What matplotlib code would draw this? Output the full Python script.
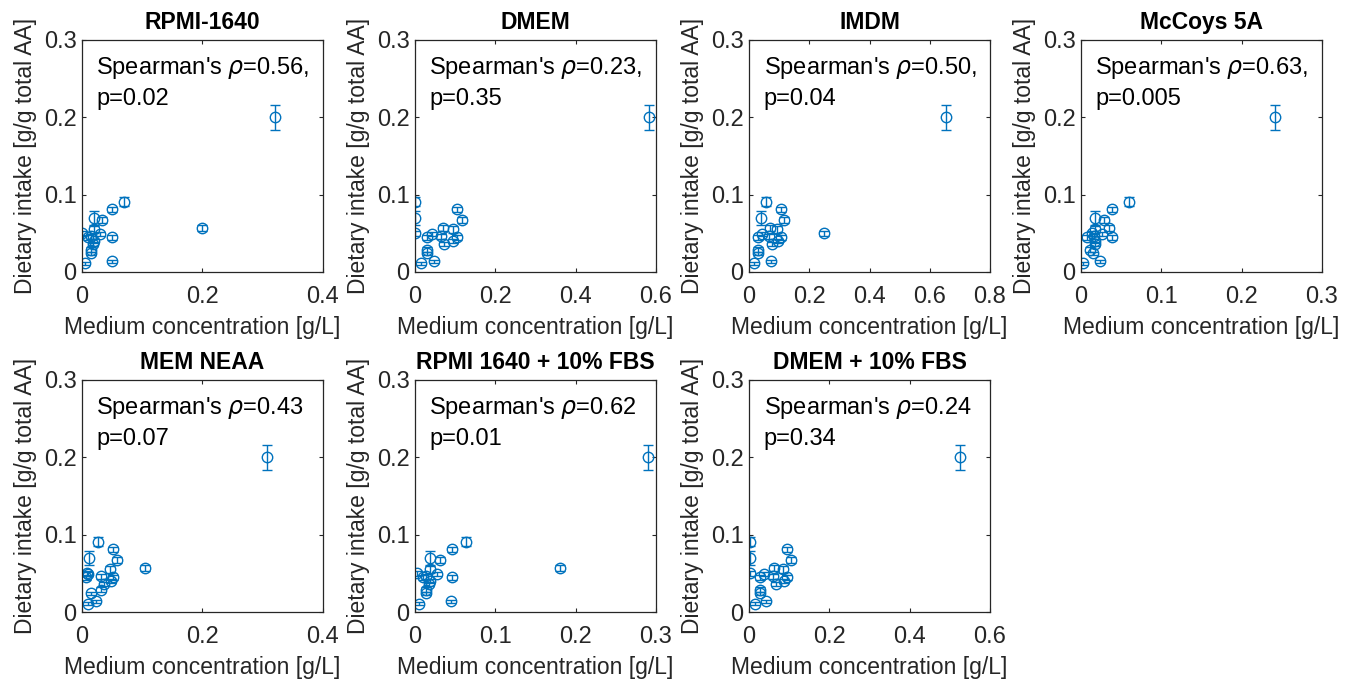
import matplotlib
matplotlib.use("Agg")
from matplotlib import pyplot as plt
from matplotlib.ticker import FuncFormatter
import numpy as np

# amino acids (Asx = Asn+Asp, Glx = Gln+Glu)
amino_acids = ['Ala', 'Arg', 'Asx', 'Cys', 'Glx', 'Gly', 'His', 'Ile', 'Leu',
               'Lys', 'Met', 'Phe', 'Pro', 'Ser', 'Thr', 'Trp', 'Tyr', 'Val']

# dietary intake [g/g total AA] and its error
intake = [0.050, 0.057, 0.091, 0.014, 0.200, 0.045, 0.029, 0.045, 0.081,
          0.067, 0.024, 0.046, 0.070, 0.049, 0.040, 0.011, 0.036, 0.055]
intake_err = [0.003, 0.004, 0.006, 0.002, 0.016, 0.003, 0.003, 0.003, 0.003,
              0.004, 0.002, 0.003, 0.009, 0.003, 0.003, 0.002, 0.003, 0.004]

# medium concentrations [g/L]
rpmi = [0.0, 0.20, 0.07, 0.05, 0.32, 0.01, 0.015, 0.05, 0.05,
        0.033, 0.015, 0.015, 0.02, 0.03, 0.02, 0.005, 0.018, 0.02]
dmem = [0.0, 0.069, 0.0, 0.048, 0.584, 0.03, 0.031, 0.105, 0.105,
        0.117, 0.03, 0.066, 0.0, 0.042, 0.095, 0.016, 0.072, 0.094]
imdm = [0.25, 0.069, 0.055, 0.073, 0.655, 0.03, 0.031, 0.105, 0.105,
        0.117, 0.03, 0.066, 0.04, 0.042, 0.095, 0.016, 0.075, 0.094]
mccoy = [0.0134, 0.035, 0.06, 0.024, 0.242, 0.0075, 0.0116, 0.039, 0.039,
         0.029, 0.015, 0.0165, 0.0173, 0.026, 0.018, 0.0031, 0.018, 0.0176]
mem_neaa = [0.0089, 0.105, 0.0265, 0.024, 0.307, 0.0075, 0.031, 0.052, 0.052,
            0.058, 0.015, 0.032, 0.0115, 0.0105, 0.048, 0.01, 0.036, 0.046]
rpmi_fbs = [0.002, 0.18, 0.063, 0.045, 0.29, 0.01, 0.014, 0.046, 0.046,
            0.031, 0.014, 0.014, 0.019, 0.027, 0.019, 0.005, 0.017, 0.019]
dmem_fbs = [0.002, 0.062, 0.002, 0.043, 0.526, 0.028, 0.028, 0.095, 0.095,
            0.105, 0.027, 0.059, 0.002, 0.038, 0.086, 0.015, 0.067, 0.085]

media = ['RPMI-1640', 'DMEM', 'IMDM', 'McCoys 5A', 'MEM NEAA',
         'RPMI 1640 + 10% FBS', 'DMEM + 10% FBS']
conc = [rpmi, dmem, imdm, mccoy, mem_neaa, rpmi_fbs, dmem_fbs]
rho = ['0.56,', '0.23,', '0.50,', '0.63,', '0.43', '0.62', '0.24']
pval = ['0.02', '0.35', '0.04', '0.005', '0.07', '0.01', '0.34']
xmax = [0.4, 0.6, 0.8, 0.3, 0.4, 0.3, 0.6]
xstep = [0.2, 0.2, 0.2, 0.1, 0.2, 0.1, 0.2]

plt.rcParams['font.family'] = ['Liberation Sans', 'DejaVu Sans']
blue = '#0072BD'
dark = '#262626'

fig = plt.figure(figsize=(13.46, 6.81), dpi=100)
lefts = [0.0609, 0.3083, 0.5565, 0.8031]
bottoms = [0.6006, 0.1013]
w, h = 0.179, 0.3407

fmt = FuncFormatter(lambda v, p: f'{v:g}')

for i, name in enumerate(media):
    ax = fig.add_axes([lefts[i % 4], bottoms[i // 4], w, h])
    ax.errorbar(conc[i], intake, yerr=intake_err, fmt='o', color=blue,
                mfc='none', mec=blue, ms=7.5, mew=1.0, elinewidth=1.0,
                capsize=3.5, capthick=1.0)
    ax.set_xlim(0, xmax[i])
    ax.set_ylim(0, 0.3)
    ax.set_xticks(np.arange(0, xmax[i] + 1e-9, xstep[i]))
    ax.set_yticks([0, 0.1, 0.2, 0.3])
    ax.xaxis.set_major_formatter(fmt)
    ax.yaxis.set_major_formatter(fmt)
    ax.tick_params(direction='in', length=3, width=0.8, top=True, right=True,
                   labelsize=17, colors=dark)
    ax.tick_params(axis='x', pad=10)
    ax.tick_params(axis='y', pad=4)
    for s in ax.spines.values():
        s.set_color(dark)
        s.set_linewidth(0.9)
    ax.set_title(name, fontsize=16.5, fontweight='bold', pad=8)
    ax.set_xlabel('Medium concentration [g/L]', fontsize=16.5, color=dark, labelpad=6)
    ax.set_ylabel('Dietary intake [g/g total AA]', fontsize=16.5, color=dark, labelpad=5)
    ax.text(0.06, 0.935, "Spearman's $\\rho$=" + rho[i] + '\np=' + pval[i],
            transform=ax.transAxes, va='top', ha='left', fontsize=17,
            linespacing=1.4)

plt.savefig('out.png', dpi=100)
